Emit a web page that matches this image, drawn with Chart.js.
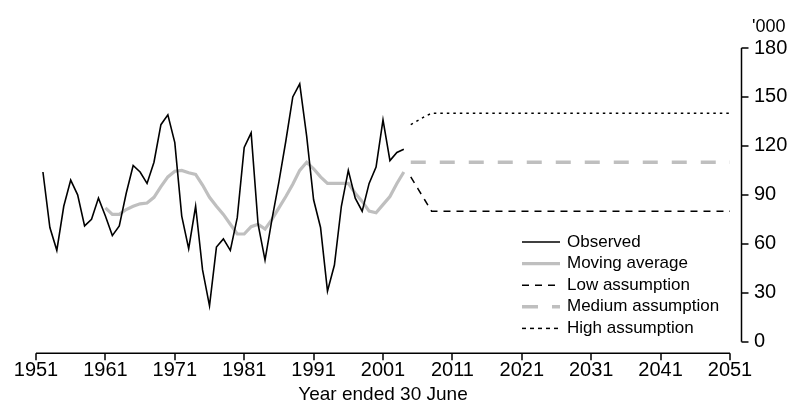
<!DOCTYPE html>
<html>
<head>
<meta charset="utf-8">
<script src="https://cdn.jsdelivr.net/npm/chart.js@4.4.1/dist/chart.umd.min.js"></script>
<style>
  html, body { margin: 0; padding: 0; background: #ffffff; }
  canvas { display: block; }
</style>
</head>
<body>
<canvas id="migrationChart" width="791" height="410"></canvas>
<script>
// Observed values, year ended 30 June ('000)
const observedYears = [
  1952, 1953, 1954, 1955, 1956, 1957, 1958, 1959, 1960, 1961,
  1962, 1963, 1964, 1965, 1966, 1967, 1968, 1969, 1970, 1971,
  1972, 1973, 1974, 1975, 1976, 1977, 1978, 1979, 1980, 1981,
  1982, 1983, 1984, 1985, 1986, 1987, 1988, 1989, 1990, 1991,
  1992, 1993, 1994, 1995, 1996, 1997, 1998, 1999, 2000, 2001,
  2002, 2003, 2004,
];
const observedValues = [
  104, 70, 56, 83, 99, 90, 71, 75, 88, 77,
  65, 71, 91, 108, 104, 97, 110, 133, 139, 122,
  77, 57, 83, 44, 22, 58, 63, 56, 76, 119,
  128, 72, 50, 75, 98, 123, 150, 158, 126, 87,
  70, 31, 47, 83, 105, 88, 80, 97, 107, 136,
  111, 116, 118,
];

// Moving average
const averageYears = [
  1961, 1962, 1963, 1964, 1965, 1966, 1967, 1968, 1969, 1970,
  1971, 1972, 1973, 1974, 1975, 1976, 1977, 1978, 1979, 1980,
  1981, 1982, 1983, 1984, 1985, 1986, 1987, 1988, 1989, 1990,
  1991, 1992, 1993, 1994, 1995, 1996, 1997, 1998, 1999, 2000,
  2001, 2002, 2003, 2004,
];
const averageValues = [
  82, 78, 78, 81, 83, 84.5, 85, 88.5, 95, 101,
  104.5, 105, 103.5, 102.5, 96, 88.5, 83, 78, 72, 66,
  66, 70.5, 72, 69, 75, 82, 89, 96.5, 105, 110,
  106, 101, 97, 97, 97, 97, 91, 86, 80, 79,
  84, 89, 97, 104,
];

// Assumptions
const projectionYears = [2005, 2006, 2007, 2008, 2051];
const lowValues = [101, 94, 87, 80, 80];
const mediumValues = [110, 110, 110, 110, 110];
const highValues = [133, 135.5, 138, 140, 140];

// Axis ticks
const yearTicks = [1951, 1961, 1971, 1981, 1991, 2001, 2011, 2021, 2031, 2041, 2051];
const valueTicks = [0, 30, 60, 90, 120, 150, 180];

const GREY = "#bfbfbf";
const FONT = "'Liberation Sans', Arial, sans-serif";

// Turn two arrays into {x, y} points
function toPoints(xs, ys) {
  return xs.map((x, i) => ({ x: x, y: ys[i] }));
}

// Plugin that draws the offset axis lines, tick marks, '000 label and the legend
const decorPlugin = {
  id: "decor",
  afterDraw(chart) {
    const ctx = chart.ctx;
    const xScale = chart.scales.x;
    const yScale = chart.scales.y;
    const area = chart.chartArea;
    ctx.save();
    ctx.strokeStyle = "#000000";
    ctx.lineWidth = 1.5;

    // x axis line sits a little below the plot area
    const axisY = area.bottom + 11.5;
    ctx.beginPath();
    ctx.moveTo(xScale.getPixelForValue(yearTicks[0]), axisY);
    ctx.lineTo(xScale.getPixelForValue(yearTicks[yearTicks.length - 1]), axisY);
    yearTicks.forEach((year) => {
      const px = Math.round(xScale.getPixelForValue(year));
      ctx.moveTo(px, axisY);
      ctx.lineTo(px, axisY + 7);
    });
    ctx.stroke();

    // y axis line sits a little right of the plot area
    const axisX = area.right + 11.5;
    ctx.beginPath();
    ctx.moveTo(axisX, yScale.getPixelForValue(valueTicks[valueTicks.length - 1]));
    ctx.lineTo(axisX, yScale.getPixelForValue(valueTicks[0]));
    valueTicks.forEach((v) => {
      const py = Math.round(yScale.getPixelForValue(v));
      ctx.moveTo(axisX, py);
      ctx.lineTo(axisX + 7, py);
    });
    ctx.stroke();

    // Unit label above the y axis
    ctx.fillStyle = "#000000";
    ctx.font = "18px " + FONT;
    ctx.textAlign = "left";
    ctx.textBaseline = "middle";
    ctx.fillText("'000", area.right + 22, 27);

    // Legend inside the plot area, bottom right
    const lineStart = 522;
    const lineEnd = 560;
    let rowY = 242;
    chart.data.datasets.forEach((ds) => {
      ctx.beginPath();
      ctx.strokeStyle = ds.borderColor;
      ctx.lineWidth = ds.borderWidth;
      ctx.setLineDash(ds.legendDash || ds.borderDash || []);
      ctx.moveTo(lineStart, rowY);
      ctx.lineTo(lineEnd, rowY);
      ctx.stroke();
      ctx.setLineDash([]);
      ctx.fillStyle = "#000000";
      ctx.font = "17px " + FONT;
      ctx.fillText(ds.label, lineEnd + 7, rowY);
      rowY += 21.6;
    });
    ctx.restore();
  },
};

const ctx = document.getElementById("migrationChart").getContext("2d");
new Chart(ctx, {
  type: "line",
  data: {
    datasets: [
      {
        label: "Observed",
        data: toPoints(observedYears, observedValues),
        borderColor: "#000000",
        borderWidth: 1.6,
      },
      {
        label: "Moving average",
        data: toPoints(averageYears, averageValues),
        borderColor: GREY,
        borderWidth: 3.2,
      },
      {
        label: "Low assumption",
        data: toPoints(projectionYears, lowValues),
        borderColor: "#000000",
        borderWidth: 1.5,
        borderDash: [7, 6],
        legendDash: [7, 6],
      },
      {
        label: "Medium assumption",
        data: toPoints(projectionYears, mediumValues),
        borderColor: GREY,
        borderWidth: 3.5,
        borderDash: [15, 14],
        legendDash: [16, 14],
      },
      {
        label: "High assumption",
        data: toPoints(projectionYears, highValues),
        borderColor: "#000000",
        borderWidth: 1.5,
        borderDash: [2.5, 4],
        legendDash: [4, 4],
      },
    ],
  },
  options: {
    responsive: false,
    animation: false,
    devicePixelRatio: 1,
    layout: {
      padding: { left: 36, top: 48, right: 0, bottom: 0 },
    },
    elements: {
      point: { radius: 0 },
      line: { tension: 0, borderCapStyle: "butt", borderJoinStyle: "miter" },
    },
    plugins: {
      legend: { display: false },
      tooltip: { enabled: false },
    },
    scales: {
      x: {
        type: "linear",
        min: yearTicks[0],
        max: yearTicks[yearTicks.length - 1],
        grid: { display: false, drawTicks: false },
        border: { display: false },
        afterBuildTicks: (axis) => {
          axis.ticks = yearTicks.map((v) => ({ value: v }));
        },
        afterFit: (axis) => {
          axis.height = 410 - 341.7;
          axis.paddingLeft = 0; // keep the plot edges fixed
          axis.paddingRight = 0;
        },
        ticks: {
          autoSkip: false,
          maxRotation: 0,
          padding: 17,
          color: "#000000",
          font: { family: FONT, size: 20 },
          callback: (value) => String(value),
        },
        title: {
          display: true,
          text: "Year ended 30 June",
          color: "#000000",
          font: { family: FONT, size: 19 },
          padding: { top: 0, bottom: 4 },
        },
      },
      y: {
        position: "right",
        min: valueTicks[0],
        max: valueTicks[valueTicks.length - 1],
        grid: { display: false, drawTicks: false },
        border: { display: false },
        afterBuildTicks: (axis) => {
          axis.ticks = valueTicks.map((v) => ({ value: v }));
        },
        afterFit: (axis) => {
          axis.width = 791 - 730;
          axis.paddingTop = 0;
          axis.paddingBottom = 0;
        },
        ticks: {
          padding: 24,
          color: "#000000",
          font: { family: FONT, size: 20 },
        },
      },
    },
  },
  plugins: [decorPlugin],
});
</script>
</body>
</html>
